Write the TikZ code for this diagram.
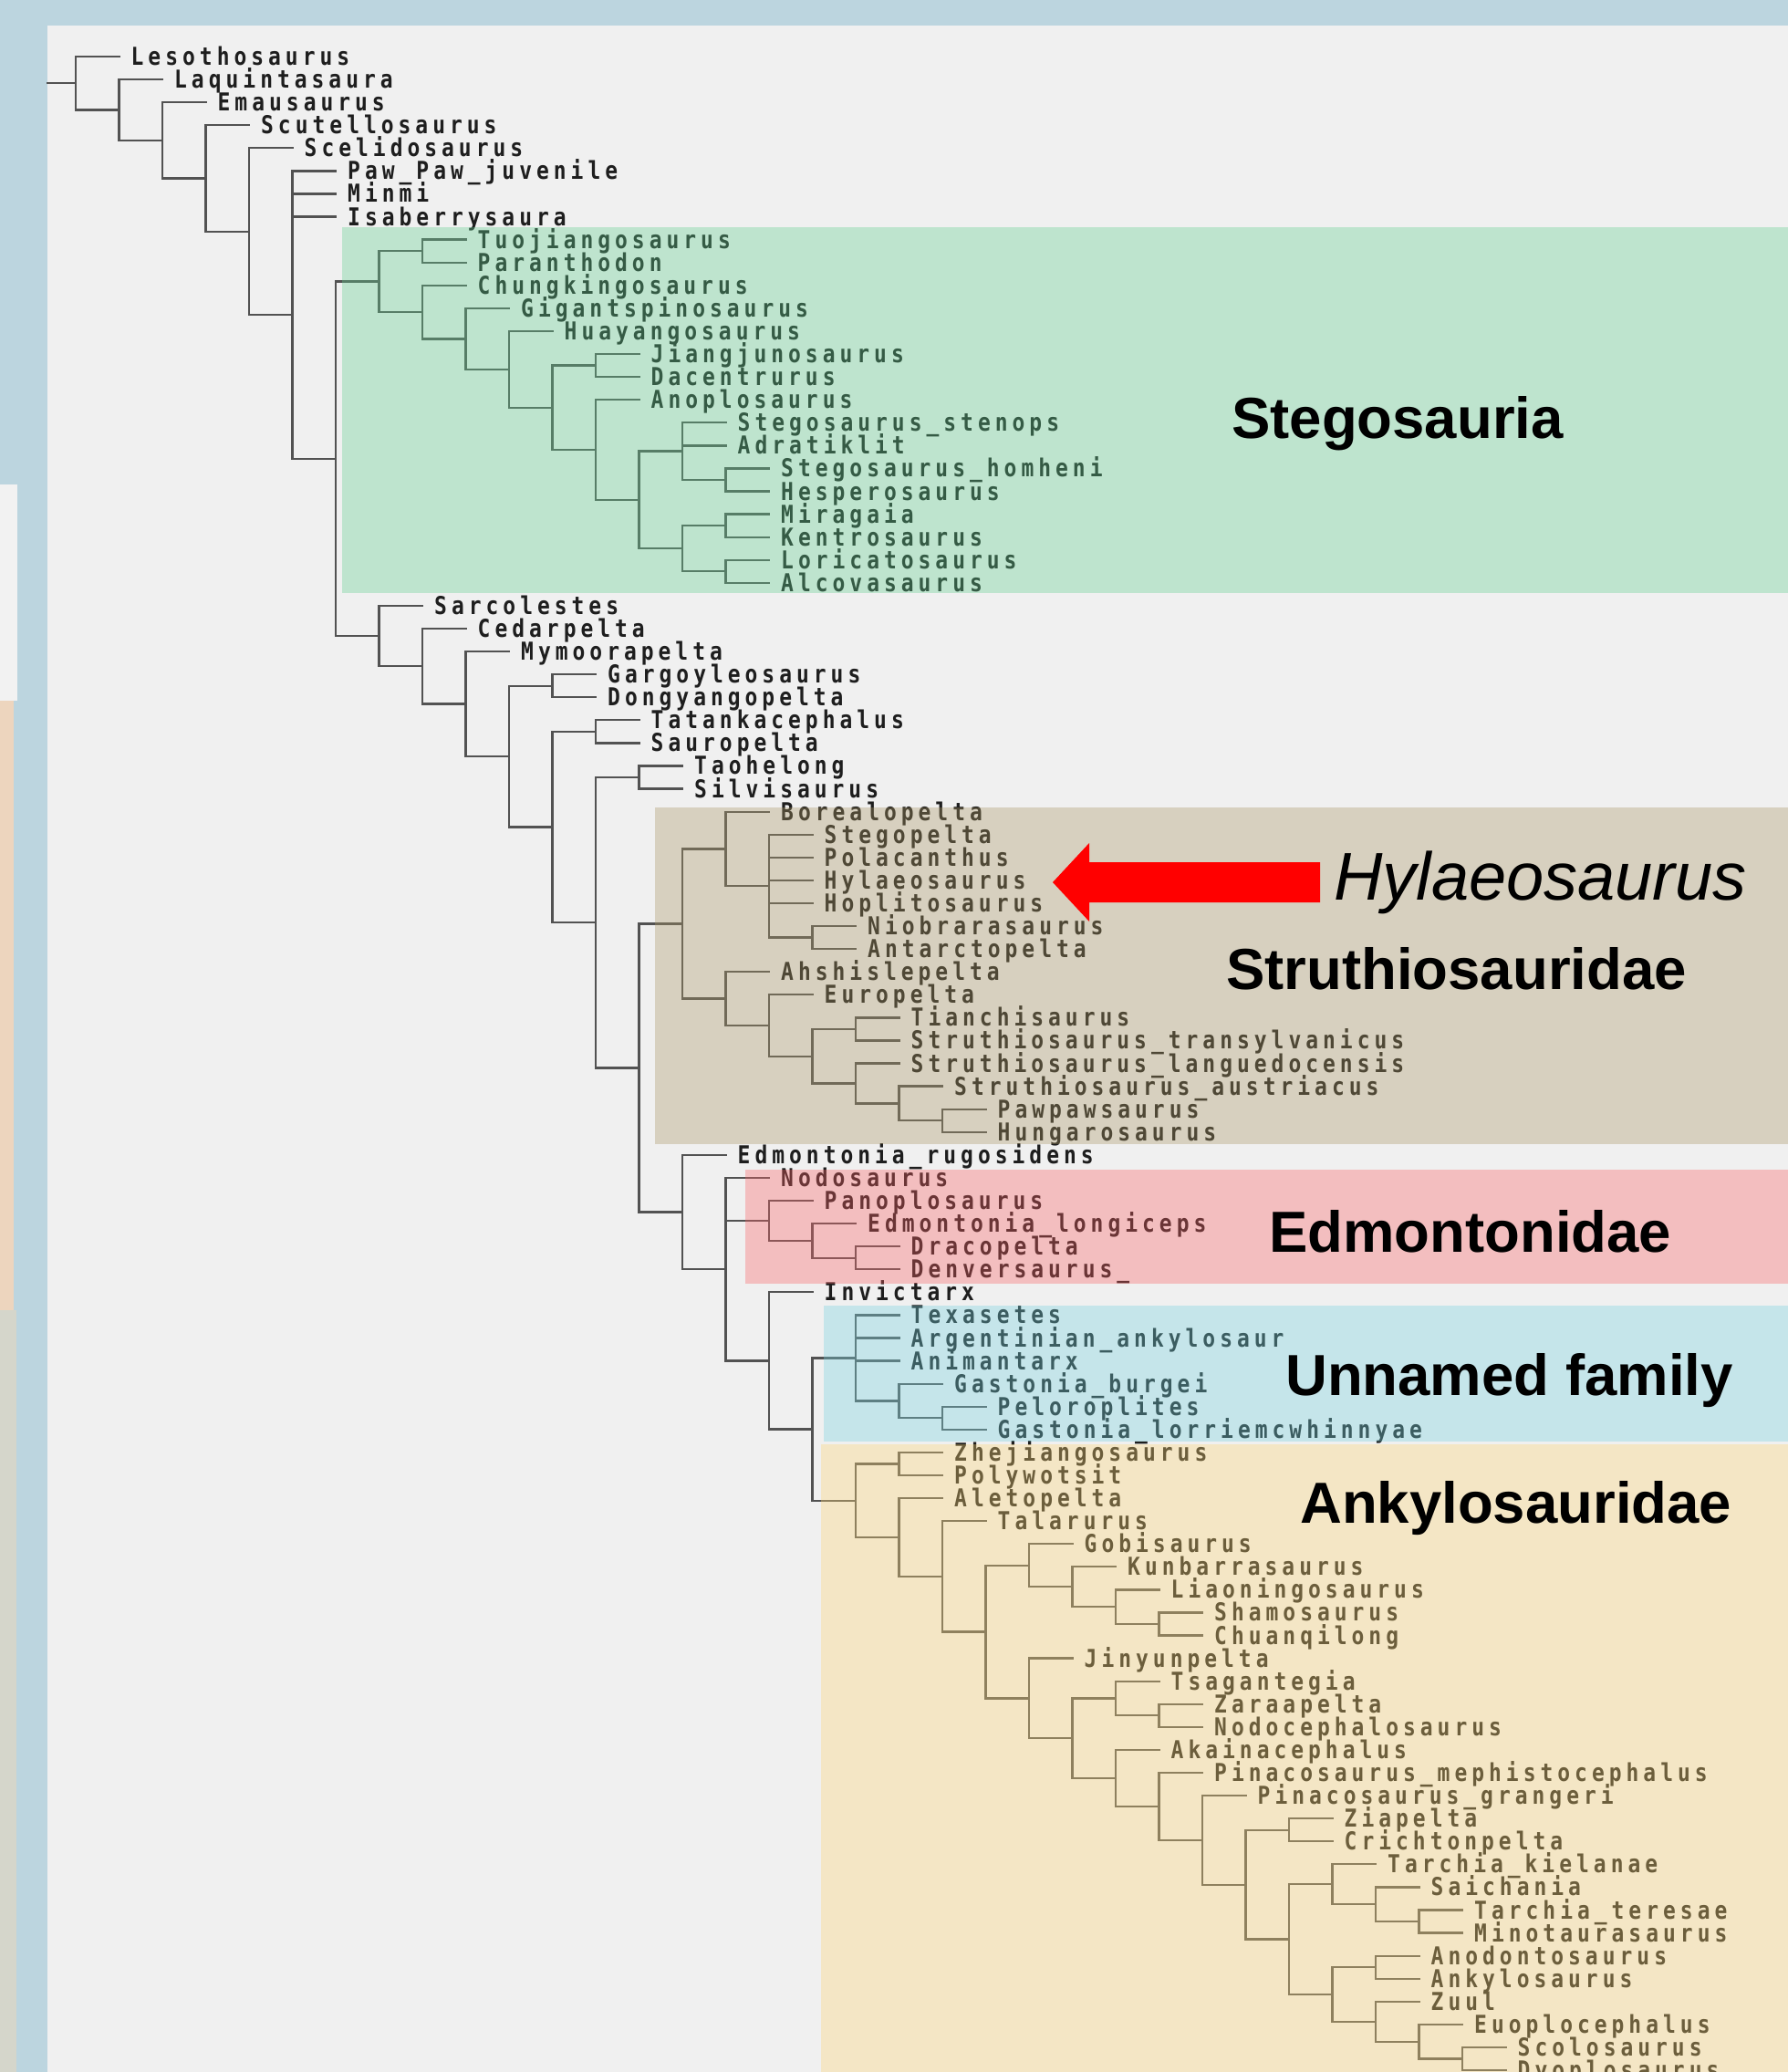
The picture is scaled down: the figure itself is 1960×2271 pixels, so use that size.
\documentclass[tikz,border=0pt]{standalone}
\usepackage{fontspec}
\setmainfont{Liberation Sans}
\newfontfamily\taxfont[LetterSpace=18.5,FakeStretch=0.85]{DejaVu Sans Mono Bold}
\newfontfamily\labfont{Liberation Sans}
\usetikzlibrary{calc}
\definecolor{outerblue}{RGB}{188,213,223}
\definecolor{panel}{RGB}{240,240,240}
\definecolor{linecol}{RGB}{82,82,82}
\definecolor{txtcol}{RGB}{30,30,30}
\definecolor{ovgreen}{RGB}{97,206,143}
\definecolor{ovtan}{RGB}{171,151,100}
\definecolor{ovpink}{RGB}{249,97,100}
\definecolor{ovblue}{RGB}{117,211,223}
\definecolor{ovbeige}{RGB}{254,214,117}
\definecolor{stripwhite}{RGB}{242,242,242}
\definecolor{strippeach}{RGB}{237,213,190}
\definecolor{stripgray}{RGB}{213,214,203}
\tikzset{
  br/.style={draw=linecol,line width=2.3pt,line cap=rect},
  taxon/.style={anchor=base west,inner sep=0pt,text=txtcol,font=\taxfont\fontsize{27}{27}\selectfont},
  band/.style={fill opacity=0.35},
  grp/.style={anchor=base west,inner sep=0pt,text=black,font=\labfont\bfseries\fontsize{63.5}{70}\selectfont},
}
\newcommand\mkleaf[4]{%
  \coordinate (#1) at ({83+47.5*#2},{62+25.08*(#3-1)});
  \node[taxon] (#1-t) at ($(#1)+(13,9.5)$) {#4};}
\newcommand\mkclade[4]{%
  \coordinate (#1-m) at ($(#2)!0.5!(#3)$);
  \coordinate (#1) at ($(#1-m)+(-47.5,0)$);
  \draw[br] (#1 |- #2) -- (#1 |- #3);
  \foreach \ch in {#4}{\draw[br] (#1 |- \ch) -- (\ch);}}
\begin{document}
\begin{tikzpicture}[x=1pt,y=-1pt]
\useasboundingbox (0,0) rectangle (1960,2271);
% backgrounds
\fill[outerblue] (0,0) rectangle (1960,2271);
\fill[panel] (52,28) rectangle (1960,2271);
\fill[stripwhite] (0,531) rectangle (19,768);
\fill[strippeach] (0,768) rectangle (15,1436);
\fill[stripgray] (0,1436) rectangle (18,2271);
% leaves
\mkleaf{Leso}{1}{1}{Lesothosaurus}
\mkleaf{Laqu}{2}{2}{Laquintasaura}
\mkleaf{Emau}{3}{3}{Emausaurus}
\mkleaf{Scut}{4}{4}{Scutellosaurus}
\mkleaf{Scel}{5}{5}{Scelidosaurus}
\mkleaf{Paw}{6}{6}{Paw\_Paw\_juvenile}
\mkleaf{Minmi}{6}{7}{Minmi}
\mkleaf{Isab}{6}{8}{Isaberrysaura}
\mkleaf{Tuoj}{9}{9}{Tuojiangosaurus}
\mkleaf{Para}{9}{10}{Paranthodon}
\mkleaf{Chung}{9}{11}{Chungkingosaurus}
\mkleaf{Gigant}{10}{12}{Gigantspinosaurus}
\mkleaf{Huay}{11}{13}{Huayangosaurus}
\mkleaf{Jiang}{13}{14}{Jiangjunosaurus}
\mkleaf{Dacen}{13}{15}{Dacentrurus}
\mkleaf{Anopl}{13}{16}{Anoplosaurus}
\mkleaf{Sstenops}{15}{17}{Stegosaurus\_stenops}
\mkleaf{Adrat}{15}{18}{Adratiklit}
\mkleaf{Shomh}{16}{19}{Stegosaurus\_homheni}
\mkleaf{Hesp}{16}{20}{Hesperosaurus}
\mkleaf{Mirag}{16}{21}{Miragaia}
\mkleaf{Kentr}{16}{22}{Kentrosaurus}
\mkleaf{Loric}{16}{23}{Loricatosaurus}
\mkleaf{Alcov}{16}{24}{Alcovasaurus}
\mkleaf{Sarco}{8}{25}{Sarcolestes}
\mkleaf{Cedar}{9}{26}{Cedarpelta}
\mkleaf{Mymoo}{10}{27}{Mymoorapelta}
\mkleaf{Gargo}{12}{28}{Gargoyleosaurus}
\mkleaf{Dongy}{12}{29}{Dongyangopelta}
\mkleaf{Tatan}{13}{30}{Tatankacephalus}
\mkleaf{Sauro}{13}{31}{Sauropelta}
\mkleaf{Taohe}{14}{32}{Taohelong}
\mkleaf{Silvi}{14}{33}{Silvisaurus}
\mkleaf{Borea}{16}{34}{Borealopelta}
\mkleaf{Stegop}{17}{35}{Stegopelta}
\mkleaf{Polac}{17}{36}{Polacanthus}
\mkleaf{Hylae}{17}{37}{Hylaeosaurus}
\mkleaf{Hopli}{17}{38}{Hoplitosaurus}
\mkleaf{Niobr}{18}{39}{Niobrarasaurus}
\mkleaf{Antar}{18}{40}{Antarctopelta}
\mkleaf{Ahshi}{16}{41}{Ahshislepelta}
\mkleaf{Europ}{17}{42}{Europelta}
\mkleaf{Tianc}{19}{43}{Tianchisaurus}
\mkleaf{Strans}{19}{44}{Struthiosaurus\_transylvanicus}
\mkleaf{Slang}{19}{45}{Struthiosaurus\_languedocensis}
\mkleaf{Saust}{20}{46}{Struthiosaurus\_austriacus}
\mkleaf{Pawpaw}{21}{47}{Pawpawsaurus}
\mkleaf{Hunga}{21}{48}{Hungarosaurus}
\mkleaf{Edmrug}{15}{49}{Edmontonia\_rugosidens}
\mkleaf{Nodos}{16}{50}{Nodosaurus}
\mkleaf{Panop}{17}{51}{Panoplosaurus}
\mkleaf{Edmlong}{18}{52}{Edmontonia\_longiceps}
\mkleaf{Draco}{19}{53}{Dracopelta}
\mkleaf{Denve}{19}{54}{Denversaurus\_}
\mkleaf{Invic}{17}{55}{Invictarx}
\mkleaf{Texas}{19}{56}{Texasetes}
\mkleaf{Argen}{19}{57}{Argentinian\_ankylosaur}
\mkleaf{Anima}{19}{58}{Animantarx}
\mkleaf{Gburg}{20}{59}{Gastonia\_burgei}
\mkleaf{Pelor}{21}{60}{Peloroplites}
\mkleaf{Glorr}{21}{61}{Gastonia\_lorriemcwhinnyae}
\mkleaf{Zheji}{20}{62}{Zhejiangosaurus}
\mkleaf{Polyw}{20}{63}{Polywotsit}
\mkleaf{Aleto}{20}{64}{Aletopelta}
\mkleaf{Talar}{21}{65}{Talarurus}
\mkleaf{Gobis}{23}{66}{Gobisaurus}
\mkleaf{Kunba}{24}{67}{Kunbarrasaurus}
\mkleaf{Liaon}{25}{68}{Liaoningosaurus}
\mkleaf{Shamo}{26}{69}{Shamosaurus}
\mkleaf{Chuan}{26}{70}{Chuanqilong}
\mkleaf{Jinyu}{23}{71}{Jinyunpelta}
\mkleaf{Tsaga}{25}{72}{Tsagantegia}
\mkleaf{Zaraa}{26}{73}{Zaraapelta}
\mkleaf{Nodoc}{26}{74}{Nodocephalosaurus}
\mkleaf{Akain}{25}{75}{Akainacephalus}
\mkleaf{Pmeph}{26}{76}{Pinacosaurus\_mephistocephalus}
\mkleaf{Pgran}{27}{77}{Pinacosaurus\_grangeri}
\mkleaf{Ziape}{29}{78}{Ziapelta}
\mkleaf{Crich}{29}{79}{Crichtonpelta}
\mkleaf{Tkiel}{30}{80}{Tarchia\_kielanae}
\mkleaf{Saich}{31}{81}{Saichania}
\mkleaf{Tteres}{32}{82}{Tarchia\_teresae}
\mkleaf{Minot}{32}{83}{Minotaurasaurus}
\mkleaf{Anodo}{31}{84}{Anodontosaurus}
\mkleaf{Ankyl}{31}{85}{Ankylosaurus}
\mkleaf{Zuul}{31}{86}{Zuul}
\mkleaf{Euopl}{32}{87}{Euoplocephalus}
\mkleaf{Scolo}{33}{88}{Scolosaurus}
\mkleaf{Dyopl}{33}{89}{Dyoplosaurus}
% Stegosauria clades
\mkclade{S1}{Tuoj}{Para}{Tuoj,Para}
\mkclade{S6}{Jiang}{Dacen}{Jiang,Dacen}
\mkclade{S11}{Shomh}{Hesp}{Shomh,Hesp}
\mkclade{S9}{Sstenops}{S11}{Sstenops,Adrat,S11}
\mkclade{S12}{Mirag}{Kentr}{Mirag,Kentr}
\mkclade{S13}{Loric}{Alcov}{Loric,Alcov}
\mkclade{S10}{S12}{S13}{S12,S13}
\mkclade{S8}{S9}{S10}{S9,S10}
\mkclade{S7}{Anopl}{S8}{Anopl,S8}
\mkclade{S5}{S6}{S7}{S6,S7}
\mkclade{S4}{Huay}{S5}{Huay,S5}
\mkclade{S3}{Gigant}{S4}{Gigant,S4}
\mkclade{S2}{Chung}{S3}{Chung,S3}
\mkclade{S0}{S1}{S2}{S1,S2}
% Ankylosauria clades
\mkclade{A4}{Gargo}{Dongy}{Gargo,Dongy}
\mkclade{A6}{Tatan}{Sauro}{Tatan,Sauro}
\mkclade{A8}{Taohe}{Silvi}{Taohe,Silvi}
\mkclade{A16}{Niobr}{Antar}{Niobr,Antar}
\mkclade{A15}{Stegop}{A16}{Stegop,Polac,Hylae,Hopli,A16}
\mkclade{A13}{Borea}{A15}{Borea,A15}
\mkclade{A19}{Tianc}{Strans}{Tianc,Strans}
\mkclade{A22}{Pawpaw}{Hunga}{Pawpaw,Hunga}
\mkclade{A21}{Saust}{A22}{Saust,A22}
\mkclade{A20}{Slang}{A21}{Slang,A21}
\mkclade{A18}{A19}{A20}{A19,A20}
\mkclade{A17}{Europ}{A18}{Europ,A18}
\mkclade{A14}{Ahshi}{A17}{Ahshi,A17}
\mkclade{A11}{A13}{A14}{A13,A14}
\mkclade{A27}{Draco}{Denve}{Draco,Denve}
\mkclade{A26}{Edmlong}{A27}{Edmlong,A27}
\mkclade{A24}{Panop}{A26}{Panop,A26}
\mkclade{A32}{Pelor}{Glorr}{Pelor,Glorr}
\mkclade{A31}{Gburg}{A32}{Gburg,A32}
\mkclade{A29}{Texas}{A31}{Texas,Argen,Anima,A31}
\mkclade{A33}{Zheji}{Polyw}{Zheji,Polyw}
\mkclade{A41}{Shamo}{Chuan}{Shamo,Chuan}
\mkclade{A40}{Liaon}{A41}{Liaon,A41}
\mkclade{A39}{Kunba}{A40}{Kunba,A40}
\mkclade{A37}{Gobis}{A39}{Gobis,A39}
\mkclade{A45}{Zaraa}{Nodoc}{Zaraa,Nodoc}
\mkclade{A43}{Tsaga}{A45}{Tsaga,A45}
\mkclade{A49}{Ziape}{Crich}{Ziape,Crich}
\mkclade{A54}{Tteres}{Minot}{Tteres,Minot}
\mkclade{A53}{Saich}{A54}{Saich,A54}
\mkclade{A51}{Tkiel}{A53}{Tkiel,A53}
\mkclade{A55}{Anodo}{Ankyl}{Anodo,Ankyl}
\mkclade{A58}{Scolo}{Dyopl}{Scolo,Dyopl}
\mkclade{A57}{Euopl}{A58}{Euopl,A58}
\mkclade{A56}{Zuul}{A57}{Zuul,A57}
\mkclade{A52}{A55}{A56}{A55,A56}
\mkclade{A50}{A51}{A52}{A51,A52}
\mkclade{A48}{A49}{A50}{A49,A50}
\mkclade{A47}{Pgran}{A48}{Pgran,A48}
\mkclade{A46}{Pmeph}{A47}{Pmeph,A47}
\mkclade{A44}{Akain}{A46}{Akain,A46}
\mkclade{A42}{A43}{A44}{A43,A44}
\mkclade{A38}{Jinyu}{A42}{Jinyu,A42}
\mkclade{A36}{A37}{A38}{A37,A38}
\mkclade{A35}{Talar}{A36}{Talar,A36}
\mkclade{A34}{Aleto}{A35}{Aleto,A35}
\mkclade{A30}{A33}{A34}{A33,A34}
\mkclade{A28}{A29}{A30}{A29,A30}
\mkclade{A25}{Invic}{A28}{Invic,A28}
\mkclade{A23}{Nodos}{A25}{Nodos,A24,A25}
\mkclade{A12}{Edmrug}{A23}{Edmrug,A23}
\mkclade{A10}{A11}{A12}{A11,A12}
\mkclade{A7}{A8}{A10}{A8,A10}
\mkclade{A5}{A6}{A7}{A6,A7}
\mkclade{A3}{A4}{A5}{A4,A5}
\mkclade{A2}{Mymoo}{A3}{Mymoo,A3}
\mkclade{A1}{Cedar}{A2}{Cedar,A2}
\mkclade{A0}{Sarco}{A1}{Sarco,A1}
% basal
\mkclade{R6}{S0}{A0}{S0,A0}
\mkclade{R5}{Paw}{R6}{Paw,Minmi,Isab,R6}
\mkclade{R4}{Scel}{R5}{Scel,R5}
\mkclade{R3}{Scut}{R4}{Scut,R4}
\mkclade{R2}{Emau}{R3}{Emau,R3}
\mkclade{R1}{Laqu}{R2}{Laqu,R2}
\mkclade{R0}{Leso}{R1}{Leso,R1}
\coordinate (stub) at (52,0);
\draw[br] (stub |- R0) -- (R0);
% translucent family bands
\fill[band,ovgreen] (375,249) rectangle (1960,650);
\fill[band,ovtan] (718,885) rectangle (1960,1254);
\fill[band,ovpink] (817,1282) rectangle (1960,1407);
\fill[band,ovblue] (903,1431) rectangle (1960,1580);
\fill[band,ovbeige] (900,1583) rectangle (1960,2271);
% labels
\node[grp] (lblsteg) at (1350,480) {Stegosauria};
\node[anchor=base west,inner sep=0pt,text=black,font=\labfont\itshape\fontsize{74}{80}\selectfont] (lblhyl) at (1462,986) {Hylaeosaurus};
\node[grp] (lblstru) at (1344,1084) {Struthiosauridae};
\node[grp] (lbledm) at (1391,1372) {Edmontonidae};
\node[grp] (lblunn) at (1409,1529) {Unnamed family};
\node[grp] (lblank) at (1425,1669) {Ankylosauridae};
% red arrow pointing at Hylaeosaurus
\coordinate (arrtail) at (1447,966.5);
\coordinate (arrtip) at (1154,967);
\fill[red] (arrtail) ++(0,-21.5) -- ++(-253,0) -- ++(0,-21) -- (arrtip) -- ++(40,43) -- ++(0,-21) -- ++(253,0) -- cycle;
\end{tikzpicture}
\end{document}
